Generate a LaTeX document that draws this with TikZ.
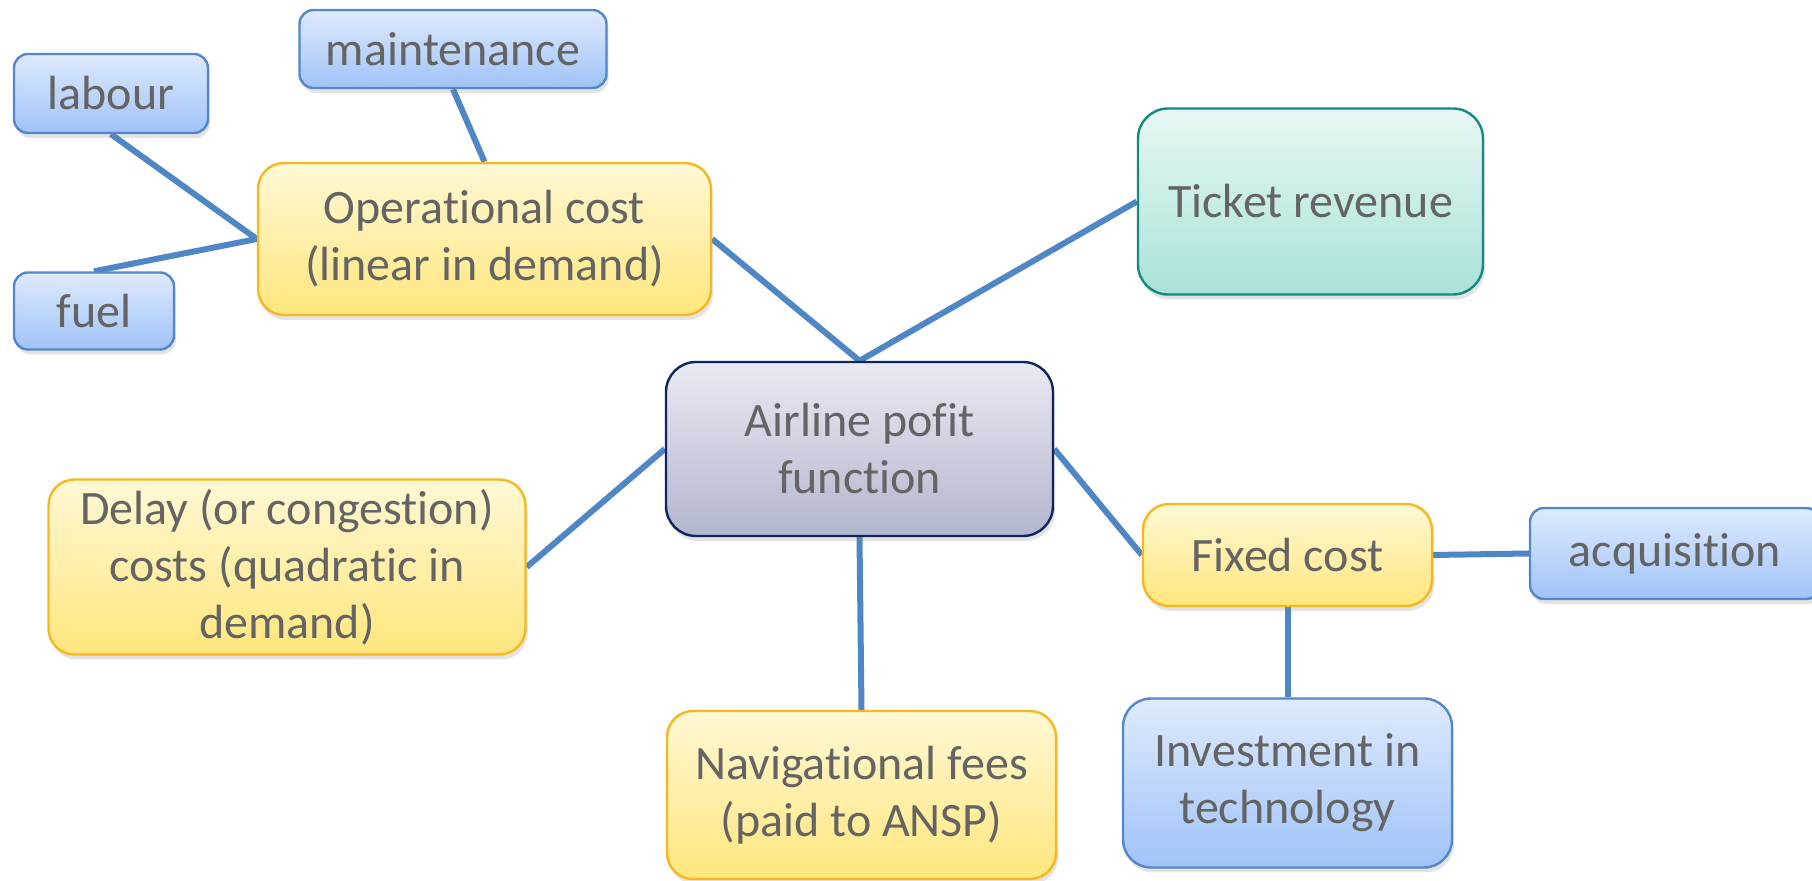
\documentclass[tikz,border=0pt]{standalone}
\usepackage{fontspec}
\setmainfont{Carlito}[RawFeature={-liga;-clig;-dlig;-calt}]
\usetikzlibrary{shadows,backgrounds}

\definecolor{txtgray}{RGB}{100,100,100}
\definecolor{linkblue}{RGB}{79,134,198}
\definecolor{blueTop}{RGB}{222,234,252}
\definecolor{blueBot}{RGB}{160,195,248}
\definecolor{blueEdge}{RGB}{84,134,204}
\definecolor{yelTop}{RGB}{255,248,212}
\definecolor{yelBot}{RGB}{255,230,125}
\definecolor{yelEdge}{RGB}{246,184,30}
\definecolor{tealTop}{RGB}{232,247,245}
\definecolor{tealBot}{RGB}{168,226,216}
\definecolor{tealEdge}{RGB}{22,138,126}
\definecolor{navTop}{RGB}{234,234,242}
\definecolor{navBot}{RGB}{178,182,206}
\definecolor{navEdge}{RGB}{16,36,96}

\tikzset{
  box/.style={rectangle, inner sep=0pt, align=center, text=txtgray,
    font=\fontsize{24}{28.5}\selectfont, line width=1.2pt,
    drop shadow={opacity=0.22, shadow xshift=1pt, shadow yshift=-2.5pt}},
  leaf/.style={box, rounded corners=7pt, top color=blueTop, bottom color=blueBot, draw=blueEdge},
  bigleaf/.style={box, rounded corners=14pt, top color=blueTop, bottom color=blueBot, draw=blueEdge},
  cost/.style={box, rounded corners=13pt, top color=yelTop, bottom color=yelBot, draw=yelEdge},
  revenue/.style={box, rounded corners=15pt, top color=tealTop, bottom color=tealBot, draw=tealEdge},
  hub/.style={box, rounded corners=15pt, top color=navTop, bottom color=navBot, draw=navEdge},
  link/.style={draw=linkblue, line width=3pt}
}

\begin{document}
\begin{tikzpicture}[x=0.5pt, y=-0.5pt]
  \useasboundingbox (0,0) rectangle (1812,881);

  % centre node
  \node[hub, minimum width=193.5pt, minimum height=87pt] (profit) at (859.5,449) {Airline pof\kern0pt it\\function};

  % first ring
  \node[cost, minimum width=226.5pt, minimum height=76pt] (oper) at (484.5,239) {Operat\kern0pt ional cost\\(linear in demand)};
  \node[revenue, minimum width=172.5pt, minimum height=93pt] (ticket) at (1310.5,201.5) {Ticket revenue};
  \node[cost, minimum width=238.5pt, minimum height=87.5pt] (delay) at (287,567) {Delay (or congestion)\\costs (quadratic in\\demand)};
  \node[cost, minimum width=144.5pt, minimum height=51pt] (fixed) at (1287.5,555) {Fixed cost};
  \node[cost, minimum width=194.5pt, minimum height=84pt] (navfee) at (861.5,795) {Navigat\kern0pt ional fees\\(paid to ANSP)};

  % second ring
  \node[leaf, minimum width=97pt, minimum height=39.5pt] (labour) at (111,93.5) {labour};
  \node[leaf, minimum width=153.5pt, minimum height=39pt] (maint) at (453,49) {maintenance};
  \node[leaf, minimum width=80pt, minimum height=38.5pt] (fuel) at (94,311) {fuel};
  \node[leaf, minimum width=145pt, minimum height=45.5pt] (acq) at (1675,553.5) {acquisit\kern0pt ion};
  \node[bigleaf, minimum width=164.5pt, minimum height=84.5pt] (invest) at (1287.5,783) {Investment in\\technology};

  % connectors behind the boxes
  \begin{pgfonlayer}{background}
    \draw[link] (labour.south) -- (oper.west);
    \draw[link] (fuel.north) -- (oper.west);
    \draw[link] (maint.south) -- (oper.north);
    \draw[link] (oper.east) -- (profit.north);
    \draw[link] (ticket.west) -- (profit.north);
    \draw[link] (delay.east) -- (profit.west);
    \draw[link] (profit.east) -- (fixed.west);
    \draw[link] (profit.south) -- (navfee.north);
    \draw[link] (fixed.east) -- (acq.west);
    \draw[link] (fixed.south) -- (invest.north);
  \end{pgfonlayer}
\end{tikzpicture}
\end{document}
